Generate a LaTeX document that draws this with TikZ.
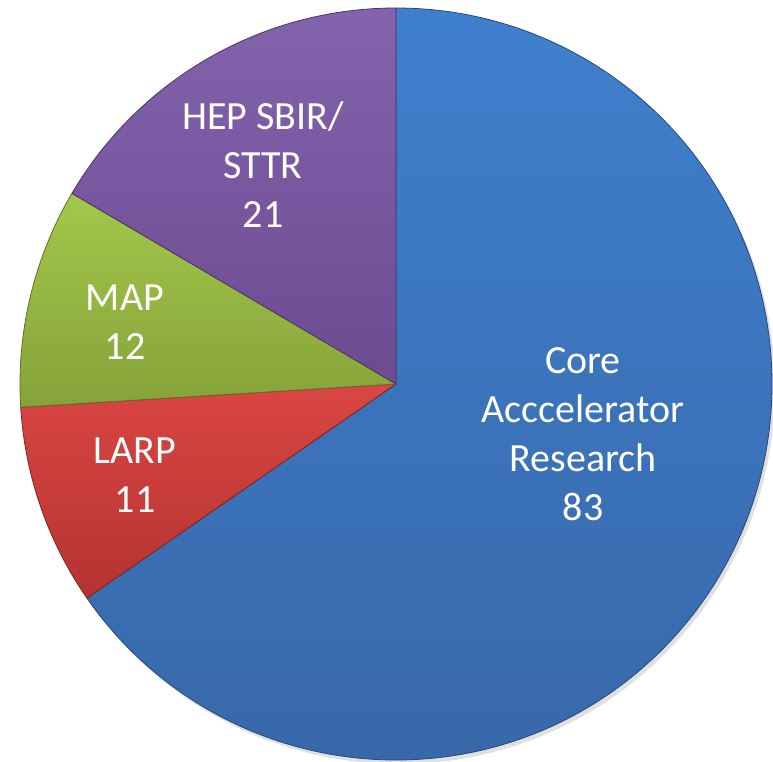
\documentclass[tikz,border=0pt]{standalone}
\usepackage{fontspec}
\setmainfont{Carlito}
\definecolor{coreT}{HTML}{3F80CE}
\definecolor{coreB}{HTML}{3868AA}
\definecolor{larpT}{HTML}{DA4643}
\definecolor{larpB}{HTML}{B43331}
\definecolor{mapT}{HTML}{A2C84A}
\definecolor{mapB}{HTML}{86A23A}
\definecolor{hepT}{HTML}{8463AE}
\definecolor{hepB}{HTML}{6C4B91}
\tikzset{
  slice/.style={draw=#1!70!black, line width=0.8pt, line join=round},
  lbl/.style={text=white, font=\fontsize{40}{49}\selectfont, align=center, inner sep=0pt}
}
\begin{document}
\begin{tikzpicture}[x=1pt,y=1pt]
\useasboundingbox (-396,-377) rectangle (377,384);
\def\R{376}
\coordinate (c) at (0,0);
% shadow
\fill[black!12] (3,-4) circle (\R);
% slices
\shade[top color=coreT, bottom color=coreB, slice=coreB] (c) -- (90:\R) arc[start angle=90, end angle=-145.276, radius=\R] -- cycle;
\shade[top color=larpT, bottom color=larpB, slice=larpB] (c) -- (-145.276:\R) arc[start angle=-145.276, end angle=-176.457, radius=\R] -- cycle;
\shade[top color=mapT, bottom color=mapB, slice=mapB] (c) -- (-176.457:\R) arc[start angle=-176.457, end angle=-210.472, radius=\R] -- cycle;
\shade[top color=hepT, bottom color=hepB, slice=hepB] (c) -- (-210.472:\R) arc[start angle=-210.472, end angle=-270, radius=\R] -- cycle;
% labels
\node[lbl] (core) at (187,-50) {Core\\Acccelerator\\Research\\83};
\node[lbl] (larp) at (-261,-91) {LARP\\11};
\node[lbl] (map) at (-271,62) {MAP\\12};
\node[lbl] (hep) at (-133,219) {HEP SBIR/\\STTR\\21};
\end{tikzpicture}
\end{document}
